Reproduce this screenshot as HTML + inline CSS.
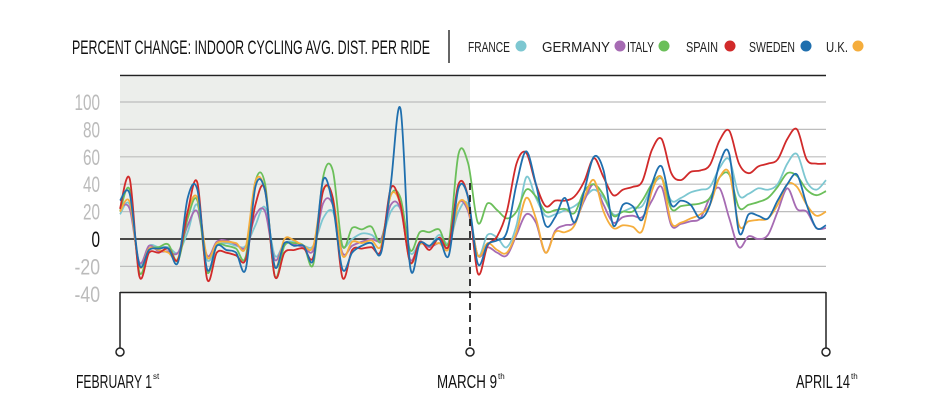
<!DOCTYPE html>
<html><head><meta charset="utf-8"><style>
html,body{margin:0;padding:0;background:#fff;width:936px;height:412px;overflow:hidden}
svg{display:block}
text{font-family:"Liberation Sans",sans-serif}
</style></head><body>
<svg id="chart" width="936" height="412" viewBox="0 0 936 412" xmlns="http://www.w3.org/2000/svg">
<g>
<text x="72" y="54" font-size="19" textLength="358" lengthAdjust="spacingAndGlyphs" fill="#111">PERCENT CHANGE: INDOOR CYCLING AVG. DIST. PER RIDE</text>
<line x1="449" y1="30" x2="449" y2="63" stroke="#333" stroke-width="1.5"/>
<g>
<text x="468" y="52" font-size="15" fill="#222" textLength="42" lengthAdjust="spacingAndGlyphs">FRANCE</text>
<circle cx="521" cy="46" r="5.5" fill="#7dc7d1"/>
<text x="542" y="52" font-size="15" fill="#222" textLength="68" lengthAdjust="spacingAndGlyphs">GERMANY</text>
<circle cx="620" cy="46" r="5.5" fill="#a66bb3"/>
<text x="627" y="52" font-size="15" fill="#222" textLength="27" lengthAdjust="spacingAndGlyphs">ITALY</text>
<circle cx="664" cy="46" r="5.5" fill="#6bbf5a"/>
<text x="686" y="52" font-size="15" fill="#222" textLength="32" lengthAdjust="spacingAndGlyphs">SPAIN</text>
<circle cx="730" cy="46" r="5.5" fill="#d12a2a"/>
<text x="749" y="52" font-size="15" fill="#222" textLength="46" lengthAdjust="spacingAndGlyphs">SWEDEN</text>
<circle cx="806" cy="46" r="5.5" fill="#1f6fae"/>
<text x="826" y="52" font-size="15" fill="#222" textLength="22" lengthAdjust="spacingAndGlyphs">U.K.</text>
<circle cx="858" cy="46" r="5.5" fill="#f5ad3c"/>
</g>
</g>
<rect x="120" y="77" width="350" height="215" fill="#eceeeb"/>
<line x1="120" y1="75.5" x2="826" y2="75.5" stroke="#222" stroke-width="1.5"/>
<g id="grid"></g>
<g id="ylabels"></g>
<g id="series"></g>
<g>
<line x1="120" y1="292.5" x2="826" y2="292.5" stroke="#222" stroke-width="1.5"/>
<line x1="120" y1="292" x2="120" y2="348" stroke="#222" stroke-width="1.5"/>
<line x1="826" y1="292" x2="826" y2="348" stroke="#222" stroke-width="1.5"/>
<line x1="470" y1="183" x2="470" y2="348" stroke="#222" stroke-width="1.8" stroke-dasharray="7,5"/>
<circle cx="120" cy="352" r="4" fill="#fff" stroke="#222" stroke-width="1.5"/>
<circle cx="470" cy="352" r="4" fill="#fff" stroke="#222" stroke-width="1.5"/>
<circle cx="826" cy="352" r="4" fill="#fff" stroke="#222" stroke-width="1.5"/>
<text x="76" y="388" font-size="18" fill="#111" textLength="76" lengthAdjust="spacingAndGlyphs">FEBRUARY 1</text>
<text x="153" y="379" font-size="8" fill="#111">st</text>
<text x="437" y="388" font-size="18" fill="#111" textLength="60" lengthAdjust="spacingAndGlyphs">MARCH 9</text>
<text x="498" y="379" font-size="8" fill="#111">th</text>
<text x="796" y="388" font-size="18" fill="#111" textLength="54" lengthAdjust="spacingAndGlyphs">APRIL 14</text>
<text x="851" y="379" font-size="8" fill="#111">th</text>
</g>
</svg>
<script>
const countries = ["FRANCE","GERMANY","ITALY","SPAIN","SWEDEN","U.K."];
const colors = ["#7dc7d1","#a66bb3","#6bbf5a","#d12a2a","#1f6fae","#f5ad3c"];
const yTicks = [100,80,60,40,20,0,-20,-40];
const france = [18,25,-18,-5,-6,-6,-10,5,25,-15,-5,-3,-5,-5,10,23,-12,-3,-2,-5,-5,15,20,-5,0,4,3,-1,20,22,-10,-3,-5,3,-3,20,25,
 -12,3,1,-6,10,45,30,17,18,21,24,30,36,30,18,20,23,24,38,44,28,30,34,36,38,52,58,32,33,37,36,40,55,62,42,36,43];
const germany = [23,22,-17,-5,-9,-9,-10,10,20,-12,-2,-1,-4,-6,17,20,-15,-3,-4,-6,-8,26,25,-10,-5,-2,0,0,25,22,-15,-3,-6,-3,-5,26,20,
 -12,-6,-10,-12,3,18,12,-10,6,10,12,28,40,25,12,16,17,16,28,38,10,11,13,15,30,37,15,-6,2,0,3,20,37,22,20,8,8];
const italy = [20,36,-24,-8,-6,-4,-16,15,28,-24,-5,-5,-7,-13,42,40,-27,-5,-3,-5,-18,45,50,-5,8,7,9,-2,32,30,-8,5,5,7,-2,62,55,
 12,26,21,15,20,36,31,20,21,22,19,35,40,32,17,20,20,28,40,45,22,24,25,26,30,45,47,23,25,27,30,38,48,46,36,32,35];
const spain = [22,44,-27,-10,-10,-7,-15,20,41,-29,-10,-10,-12,-15,25,36,-27,-10,-8,-7,-13,35,30,-28,-8,-7,-6,-8,37,25,-17,-2,-8,1,-5,40,30,
 -25,-5,2,20,55,63,40,24,28,28,31,42,59,45,32,36,38,42,65,73,48,43,49,50,54,72,79,55,48,53,55,58,73,80,58,55,55];
const sweden = [28,33,-19,-8,-7,-7,-17,30,36,-22,-5,-8,-10,-22,38,35,-20,-3,-5,-5,-15,43,25,-22,-10,-5,-3,-10,40,95,-20,-3,-5,0,-12,37,30,
 -18,-4,-1,5,40,64,40,10,16,30,12,35,60,50,10,25,24,14,40,53,25,28,25,15,25,55,62,5,18,17,15,28,40,47,25,8,10];
const uk = [20,27,-20,-7,-8,-10,-14,20,30,-13,-3,-2,-3,-6,42,35,-20,0,-1,-5,-5,36,30,-12,-2,-3,-1,-5,32,25,-17,-4,-5,-3,-7,26,22,
 -12,-3,-8,-10,5,30,15,-10,5,5,10,30,43,20,8,10,9,6,35,45,12,12,15,18,25,45,48,10,13,14,15,25,40,38,25,17,20];

const NS="http://www.w3.org/2000/svg";
const X0=120,X1=826,Y0=239,PXU=1.37;
const nDays=france.length;
function xs(i){return X0+i*(X1-X0)/(nDays-1);}
function ys(v){return Y0-v*PXU;}
function mk(tag,attrs,parent){const e=document.createElementNS(NS,tag);for(const k in attrs)e.setAttribute(k,attrs[k]);parent.appendChild(e);return e;}

const grid=document.getElementById('grid');
const ylab=document.getElementById('ylabels');
yTicks.forEach(t=>{
  if(t>-40){
    const l=mk('line',{x1:X0,x2:X1,y1:ys(t),y2:ys(t),stroke:t===0?'#111':'#bdbdbd','stroke-width':t===0?1.6:1.2},grid);
    
    
  }
  const s=String(t);
  const w=s.length*8.5;
  const tx=mk('text',{x:100-w,y:ys(t)+8,'font-size':22,fill:t===0?'#111':'#bbbbbb',textLength:w,lengthAdjust:'spacingAndGlyphs'},ylab);
  tx.textContent=s;
  
  
});

function pathD(vals){
  const p=vals.map((v,i)=>[xs(i),ys(v)]);
  let d='M'+p[0][0].toFixed(1)+','+p[0][1].toFixed(1);
  for(let i=0;i<p.length-1;i++){
    const p0=p[i-1]||p[i],p1=p[i],p2=p[i+1],p3=p[i+2]||p2;
    const c1=[p1[0]+(p2[0]-p0[0])/6,p1[1]+(p2[1]-p0[1])/6];
    const c2=[p2[0]-(p3[0]-p1[0])/6,p2[1]-(p3[1]-p1[1])/6];
    d+='C'+c1[0].toFixed(1)+','+c1[1].toFixed(1)+' '+c2[0].toFixed(1)+','+c2[1].toFixed(1)+' '+p2[0].toFixed(1)+','+p2[1].toFixed(1);
  }
  return d;
}
const seriesG=document.getElementById('series');
const data=[france,germany,italy,uk,spain,sweden];
const idx=[0,1,2,5,3,4];
data.forEach((vals,k)=>{
  const c=idx[k];
  const p=mk('path',{d:pathD(vals),fill:'none',stroke:colors[c],'stroke-width':1.8,'stroke-linejoin':'round'},seriesG);
  
  
});
</script>
</body></html>
